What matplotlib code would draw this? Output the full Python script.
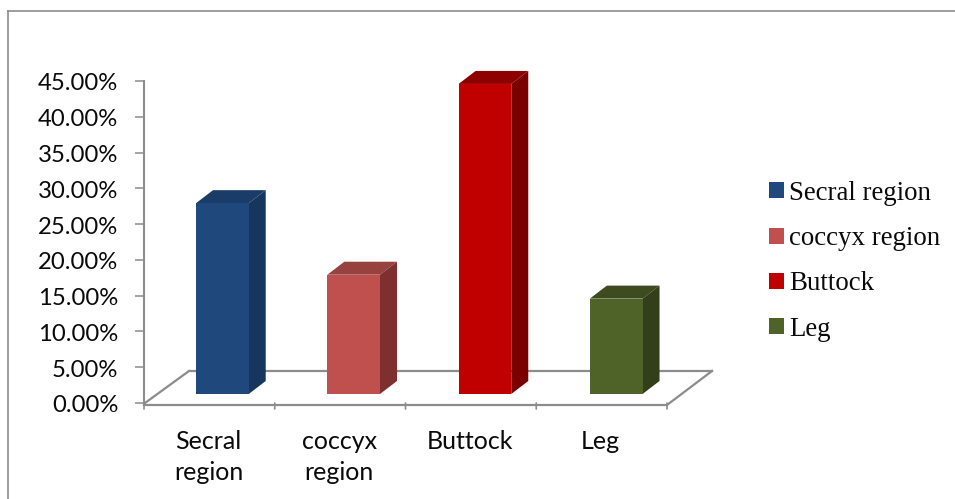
import matplotlib
matplotlib.use("Agg")
import matplotlib.pyplot as plt
from matplotlib.patches import Patch
from matplotlib.transforms import Affine2D
from matplotlib.lines import Line2D

categories = ["Secral\nregion", "coccyx\nregion", "Buttock", "Leg"]
legend_labels = ["Secral region", "coccyx region", "Buttock", "Leg"]
values = [26.67, 16.67, 43.33, 13.33]
front_colors = ["#1F497D", "#C0504D", "#C00000", "#4F6228"]
side_colors = ["#17365D", "#7D302E", "#7A0000", "#323F1A"]
top_colors = ["#1A3C68", "#984240", "#8F0000", "#3D4B1F"]
y_ticks = [0, 5, 10, 15, 20, 25, 30, 35, 40, 45]

W, H = 955, 499
GRAY = "#8C8C8C"
fig = plt.figure(figsize=(W / 100, H / 100), dpi=100, facecolor="white")

# Plot area spans the front wall of the 3D box, in pixel terms
left, right, top, bottom = 144, 667, 81, 403
ax = fig.add_axes([left / W, 1 - bottom / H, (right - left) / W, (bottom - top) / H])
ax.set_xlim(0, 4)
ax.set_ylim(0, 45)
ax.patch.set_alpha(0)
for name in ("top", "right", "bottom"):
    ax.spines[name].set_visible(False)
ax.spines["left"].set_color(GRAY)
ax.spines["left"].set_linewidth(1.5)

ax.set_yticks(y_ticks)
ax.set_yticklabels([f"{v:.2f}%" for v in y_ticks], family="Lato", fontsize=17.2, color="#0A0A0A")
ax.tick_params(axis="y", length=6.5, width=1.1, color=GRAY, pad=12)
ax.set_xticks([])
for tick_label in ax.get_yticklabels():
    tick_label.set_transform(tick_label.get_transform() + Affine2D().translate(0, -1))

base = ax.transData


def shifted(dx, dy):
    return base + Affine2D().translate(dx, dy)


# Floor of the 3D box and the category axis below it
floor_front = shifted(0, -2)
floor_back = shifted(45, 32)
ax.plot([0, 4], [0, 0], transform=floor_front, color=GRAY, lw=1.6, clip_on=False)
ax.plot([0, 4], [0, 0], transform=floor_back, color=GRAY, lw=1.6, clip_on=False, zorder=1)
for x in (0, 4):
    px = left + x * (right - left) / 4
    fig.add_artist(Line2D(
        [(px + (1 if x == 0 else 0)) / W, (px + 45) / W],
        [1 - (403 if x == 0 else 405) / H, 1 - 371 / H], color=GRAY, lw=1.6))
for x in range(5):
    ax.annotate("", xy=(x, 0), xycoords="data", xytext=(0, -6), textcoords="offset pixels",
                arrowprops=dict(arrowstyle="-", color=GRAY, lw=1.2, shrinkA=0, shrinkB=0))

# Bars: front face, then side and top faces offset by the box depth
bar_w = 0.403
bar_step = 1.004
dx, dy = 13, 9
ddx, ddy = 17, 13
front_tf = shifted(dx, dy)
depth_tf = shifted(dx + ddx, dy + ddy)
inv = base.inverted()
for i, v in enumerate(values):
    c = 0.5 + i * bar_step
    l, r = c - bar_w / 2, c + bar_w / 2
    ax.bar(c, v, bar_w, transform=front_tf, color=front_colors[i], zorder=4, clip_on=False)
    fl, fr = front_tf.transform((l, v)), front_tf.transform((r, v))
    fb = front_tf.transform((r, 0))
    bl, br = depth_tf.transform((l, v)), depth_tf.transform((r, v))
    bb = depth_tf.transform((r, 0))
    top_pts = inv.transform([fl, fr, br, bl])
    side_pts = inv.transform([fr, br, bb, fb])
    ax.fill(top_pts[:, 0], top_pts[:, 1], color=top_colors[i], lw=0, zorder=3, clip_on=False)
    ax.fill(side_pts[:, 0], side_pts[:, 1], color=side_colors[i], lw=0, zorder=3, clip_on=False)

for i, label in enumerate(categories):
    ax.annotate(label, xy=(i + 0.5, 0), xycoords="data", xytext=(-1, -27), textcoords="offset pixels",
                ha="center", va="top", family="Lato", fontsize=18, color="#0A0A0A", linespacing=1.42)

handles = [Patch(facecolor=c, edgecolor="none") for c in front_colors]
fig.legend(handles, legend_labels, loc="upper left", bbox_to_anchor=(769 / W, 1 - 181 / H),
           frameon=False, prop={"family": "Liberation Serif", "size": 19.4},
           handlelength=0.54, handleheight=0.54, handletextpad=0.2, labelspacing=0.75,
           borderaxespad=0, borderpad=0, labelcolor="#0A0A0A")

# Outer chart border
fig.add_artist(Line2D([7.5 / W, 7.5 / W], [0, 1 - 11 / H], color=GRAY, lw=1.2))
fig.add_artist(Line2D([7.5 / W, 1], [1 - 11 / H, 1 - 11 / H], color=GRAY, lw=1.2))

fig.savefig("out.png", dpi=100)
